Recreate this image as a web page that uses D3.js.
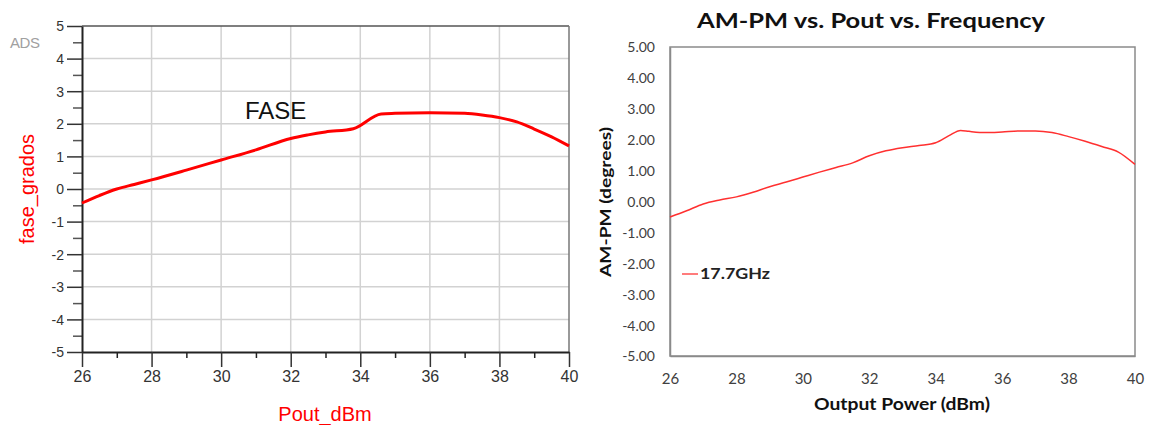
<!DOCTYPE html>
<html>
<head>
<meta charset="utf-8">
<script src="https://cdn.jsdelivr.net/npm/d3@7"></script>
<style>
  body { margin: 0; background: #fff; }
  svg { display: block; }
</style>
</head>
<body>
<svg id="chart" width="1154" height="425"></svg>
<script>
// left plot (ADS) - fase_grados vs Pout_dBm
var adsPout  = [26, 26.5, 27, 27.5, 28, 29, 30, 31, 32, 32.5, 33, 33.8, 34.6, 35, 36, 37, 37.5, 38, 38.5, 39, 39.5, 40];
var adsFase  = [-0.43, -0.2, 0.0, 0.14, 0.28, 0.58, 0.89, 1.2, 1.55, 1.66, 1.75, 1.85, 2.3, 2.32, 2.34, 2.32, 2.27, 2.19, 2.06, 1.84, 1.6, 1.32];

// right plot - AM-PM vs output power, 17.7GHz
var outPower = [26, 26.5, 27, 27.5, 28, 28.5, 29, 29.5, 30, 30.5, 31, 31.5, 32, 32.5, 33, 33.5, 34, 34.4, 34.75, 35, 35.5, 36, 36.5, 37, 37.5, 38, 38.5, 39, 39.5, 40];
var amPm     = [-0.5, -0.3, -0.08, 0.05, 0.15, 0.3, 0.48, 0.63, 0.79, 0.95, 1.1, 1.25, 1.48, 1.64, 1.74, 1.81, 1.9, 2.13, 2.3, 2.27, 2.23, 2.25, 2.28, 2.28, 2.23, 2.1, 1.95, 1.78, 1.6, 1.2];

var xTicks    = [26, 28, 30, 32, 34, 36, 38, 40];
var yTicksADS = [-5, -4, -3, -2, -1, 0, 1, 2, 3, 4, 5];
var legendLabel = "17.7GHz";

var svg = d3.select("#chart");

//////////////////////////////////////////////
// Left chart (ADS style) ////////////////////
//////////////////////////////////////////////
var L = {left: 82, right: 569, top: 26, bottom: 352};
var xL = d3.scaleLinear().domain([26, 40]).range([L.left, L.right]);
var yL = d3.scaleLinear().domain([-5, 5]).range([L.bottom, L.top]);
var fontL = "'Liberation Sans', Arial, sans-serif";

var gL = svg.append("g").attr("font-family", fontL);

// grid
gL.append("g").selectAll("line")
  .data(xTicks.slice(1, -1)).enter().append("line")
  .attr("x1", function(d){ return xL(d); }).attr("x2", function(d){ return xL(d); })
  .attr("y1", L.top).attr("y2", L.bottom)
  .attr("stroke", "#d2d2d2").attr("stroke-width", 1.5);
gL.append("g").selectAll("line")
  .data(yTicksADS.slice(1, -1)).enter().append("line")
  .attr("y1", function(d){ return yL(d); }).attr("y2", function(d){ return yL(d); })
  .attr("x1", L.left).attr("x2", L.right)
  .attr("stroke", "#d2d2d2").attr("stroke-width", 1.5);

// frame top / right
gL.append("line").attr("x1", L.left).attr("x2", L.right).attr("y1", L.top).attr("y2", L.top)
  .attr("stroke", "#555").attr("stroke-width", 1.5);
gL.append("line").attr("x1", L.right).attr("x2", L.right).attr("y1", L.top).attr("y2", L.bottom)
  .attr("stroke", "#777").attr("stroke-width", 1.5);

// minor ticks
var minorX = d3.range(27, 40, 2), minorY = d3.range(-4.5, 5, 1);
gL.append("g").attr("transform", "translate(0," + L.bottom + ")")
  .call(d3.axisBottom(xL).tickValues(minorX).tickSize(6).tickFormat(""))
  .call(function(g){ g.select(".domain").remove(); g.selectAll("line").attr("stroke", "#222").attr("stroke-width", 1.5); });
gL.append("g").attr("transform", "translate(" + L.left + ",0)")
  .call(d3.axisLeft(yL).tickValues(minorY).tickSize(9).tickFormat(""))
  .call(function(g){ g.select(".domain").remove(); g.selectAll("line").attr("stroke", "#555").attr("stroke-width", 1.5); });

// major axes
var xAxisL = gL.append("g").attr("transform", "translate(0," + L.bottom + ")")
  .call(d3.axisBottom(xL).tickValues(xTicks).tickSize(15).tickSizeOuter(0).tickPadding(5)
    .tickFormat(function(d){ return String(d); }));
var yAxisL = gL.append("g").attr("transform", "translate(" + L.left + ",0)")
  .call(d3.axisLeft(yL).tickValues(yTicksADS).tickSize(15).tickSizeOuter(0).tickPadding(3)
    .tickFormat(function(d){ return String(d); }));
[xAxisL, yAxisL].forEach(function(a){
  a.select(".domain").attr("stroke", "#222").attr("stroke-width", 2);
  a.selectAll(".tick line").attr("stroke", "#333").attr("stroke-width", 1.5);
  a.selectAll(".tick text").attr("fill", "#333").attr("font-family", fontL);
});
xAxisL.selectAll(".tick text").attr("font-size", 16).attr("dy", "0.6em");
yAxisL.selectAll(".tick text").attr("font-size", 14).attr("dy", "0.35em");

// curve
gL.append("path")
  .datum(adsPout.map(function(d, i){ return [d, adsFase[i]]; }))
  .attr("fill", "none").attr("stroke", "#ff0000").attr("stroke-width", 3)
  .attr("stroke-linejoin", "round")
  .attr("d", d3.line().x(function(d){ return xL(d[0]); }).y(function(d){ return yL(d[1]); }).curve(d3.curveMonotoneX));

// labels
gL.append("text").attr("x", 10).attr("y", 48)
  .attr("font-size", 15).attr("fill", "#a0a0a0").attr("textLength", 30).text("ADS");
gL.append("text").attr("x", 245).attr("y", 119)
  .attr("font-size", 24).attr("fill", "#111").text("FASE");
gL.append("text").attr("transform", "translate(34," + yL(0) + ") rotate(-90)")
  .attr("text-anchor", "middle").attr("font-size", 20).attr("fill", "#ff0000").text("fase_grados");
gL.append("text").attr("x", 325).attr("y", 421).attr("text-anchor", "middle")
  .attr("font-size", 20).attr("fill", "#ff0000").text("Pout_dBm");

//////////////////////////////////////////////
// Right chart (Excel style) /////////////////
//////////////////////////////////////////////
var R = {left: 670, right: 1135, top: 47, bottom: 356};
var xR = d3.scaleLinear().domain([26, 40]).range([R.left, R.right]);
var yR = d3.scaleLinear().domain([-5, 5]).range([R.bottom, R.top]);
var fontR = "Lato, 'Open Sans', sans-serif";

var gR = svg.append("g").attr("font-family", fontR);

gR.append("rect").attr("x", R.left).attr("y", R.top)
  .attr("width", R.right - R.left).attr("height", R.bottom - R.top)
  .attr("fill", "none").attr("stroke", "#8a8a8a").attr("stroke-width", 1.5);

var xAxisR = gR.append("g").attr("transform", "translate(0," + R.bottom + ")")
  .call(d3.axisBottom(xR).tickValues(xTicks).tickSize(0).tickPadding(17)
    .tickFormat(function(d){ return String(d); }));
var yAxisR = gR.append("g").attr("transform", "translate(" + R.left + ",0)")
  .call(d3.axisLeft(yR).tickValues(yTicksADS).tickSize(0).tickPadding(15)
    .tickFormat(function(d){ return d.toFixed(2); }));
[xAxisR, yAxisR].forEach(function(a){
  a.select(".domain").attr("stroke", "#8a8a8a").attr("stroke-width", 1.5);
  a.selectAll(".tick text").attr("fill", "#404040").attr("font-family", fontR);
});
xAxisR.selectAll(".tick text").attr("font-size", 15);
yAxisR.selectAll(".tick text").attr("font-size", 14).attr("dy", "0.35em");

gR.append("path")
  .datum(outPower.map(function(d, i){ return [d, amPm[i]]; }))
  .attr("fill", "none").attr("stroke", "#ff3030").attr("stroke-width", 1.5)
  .attr("d", d3.line().x(function(d){ return xR(d[0]); }).y(function(d){ return yR(d[1]); }).curve(d3.curveMonotoneX));

// legend
gR.append("line").attr("x1", 682).attr("x2", 698).attr("y1", 274).attr("y2", 274)
  .attr("stroke", "#ff5050").attr("stroke-width", 1.5);
gR.append("text").attr("x", 700).attr("y", 279).attr("font-size", 15).attr("font-weight", "bold")
  .attr("fill", "#222").attr("textLength", 70).attr("lengthAdjust", "spacingAndGlyphs").text(legendLabel);

// titles
gR.append("text").attr("x", 697).attr("y", 28)
  .attr("font-size", 21).attr("font-weight", "bold").attr("fill", "#111")
  .attr("textLength", 348).attr("lengthAdjust", "spacingAndGlyphs").text("AM-PM vs. Pout vs. Frequency");
gR.append("text").attr("transform", "translate(611,277) rotate(-90)")
  .attr("font-size", 16).attr("font-weight", "bold").attr("fill", "#111")
  .attr("textLength", 150).attr("lengthAdjust", "spacingAndGlyphs").text("AM-PM (degrees)");
gR.append("text").attr("x", 814).attr("y", 410)
  .attr("font-size", 17).attr("font-weight", "bold").attr("fill", "#111")
  .attr("textLength", 176).attr("lengthAdjust", "spacingAndGlyphs").text("Output Power (dBm)");
</script>
</body>
</html>
